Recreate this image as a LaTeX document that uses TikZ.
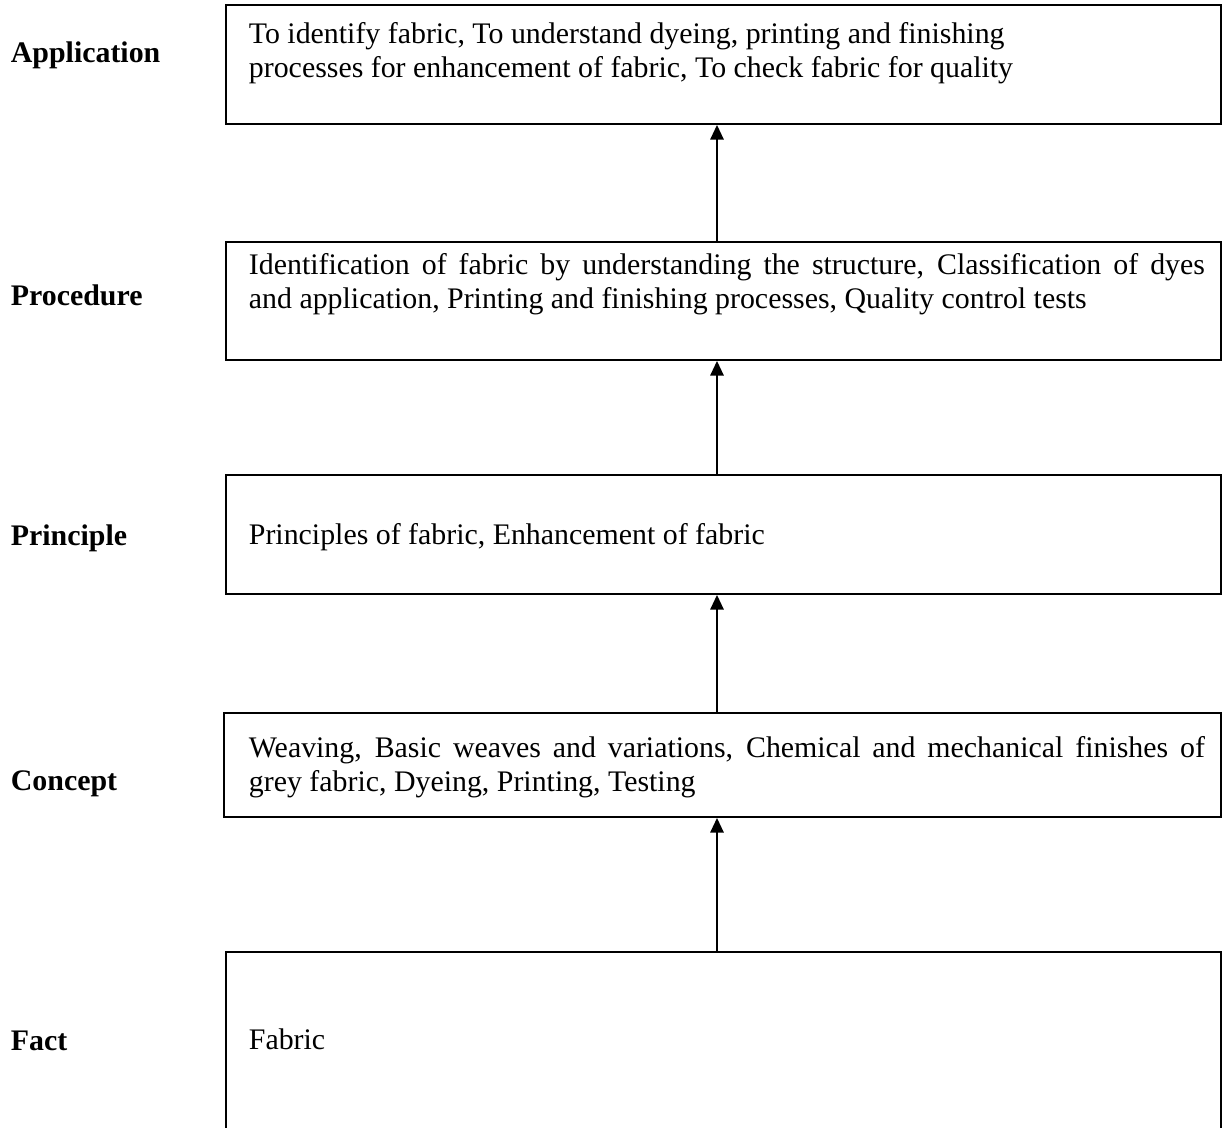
\documentclass[tikz,border=0pt]{standalone}
\usepackage{fontspec}
\setmainfont{Liberation Serif}
\usetikzlibrary{arrows.meta,fit}

\tikzset{every picture/.style={line width=1.4pt}}
% two lines of box text, baseline on the first one
\newcommand{\boxlines}[2]{\vtop{\hbox{#1}\hbox{#2}}}
\newcommand{\fullline}[1]{\hbox to 717pt{#1}}

\begin{document}
\begin{tikzpicture}[x=0.75pt,y=0.75pt,yscale=-1,xscale=1,
  levelbox/.style={draw,rectangle,inner sep=0pt},
  boxtext/.style={anchor=base west,inner sep=0pt,font=\fontsize{22.4}{25.5}\selectfont},
  levellabel/.style={anchor=base west,inner sep=0pt,font=\fontsize{22.4}{25.5}\selectfont\bfseries},
  uparrow/.style={-{Triangle[length=11pt,width=10pt]}}]
\useasboundingbox (0,0) rectangle (1225,1128);

% Boxes
\node[levelbox, fit={(226,5) (1221,124)}] (app) {};
\node[levelbox, fit={(226,242) (1221,360)}] (proc) {};
\node[levelbox, fit={(226,475) (1221,594)}] (prin) {};
\node[levelbox, fit={(224,713) (1221,817)}] (conc) {};
\node[levelbox, fit={(226,952) (1221,1145)}] (fact) {};

% Box texts
\node[boxtext] (apptext) at (248,43) {\boxlines{To identify fabric, To understand dyeing, printing and finishing}{processes for enhancement of fabric, To check fabric for quality}};
\node[boxtext] (proctext) at (248,274) {\boxlines{\fullline{Identification of fabric by understanding the structure, Classification of dyes}}{and application, Printing and finishing processes, Quality control tests}};
\node[boxtext] (printext) at (248,544) {Principles of fabric, Enhancement of fabric};
\node[boxtext] (conctext) at (248,757) {\boxlines{\fullline{Weaving, Basic weaves and variations, Chemical and mechanical finishes of}}{grey fabric, Dyeing, Printing, Testing}};
\node[boxtext] (facttext) at (248,1049) {Fabric};

% Level labels
\node[levellabel] (applabel) at (10,62.7) {Application};
\node[levellabel] (proclabel) at (10,305) {Procedure};
\node[levellabel] (prinlabel) at (10,545) {Principle};
\node[levellabel] (conclabel) at (10,790) {Concept};
\node[levellabel] (factlabel) at (10,1050) {Fact};

% Arrows
\coordinate (axis) at (717,0);
\draw[uparrow] (proc.north -| axis) -- (app.south -| axis);
\draw[uparrow] (prin.north -| axis) -- (proc.south -| axis);
\draw[uparrow] (conc.north -| axis) -- (prin.south -| axis);
\draw[uparrow] (fact.north -| axis) -- (conc.south -| axis);

\end{tikzpicture}
\end{document}
